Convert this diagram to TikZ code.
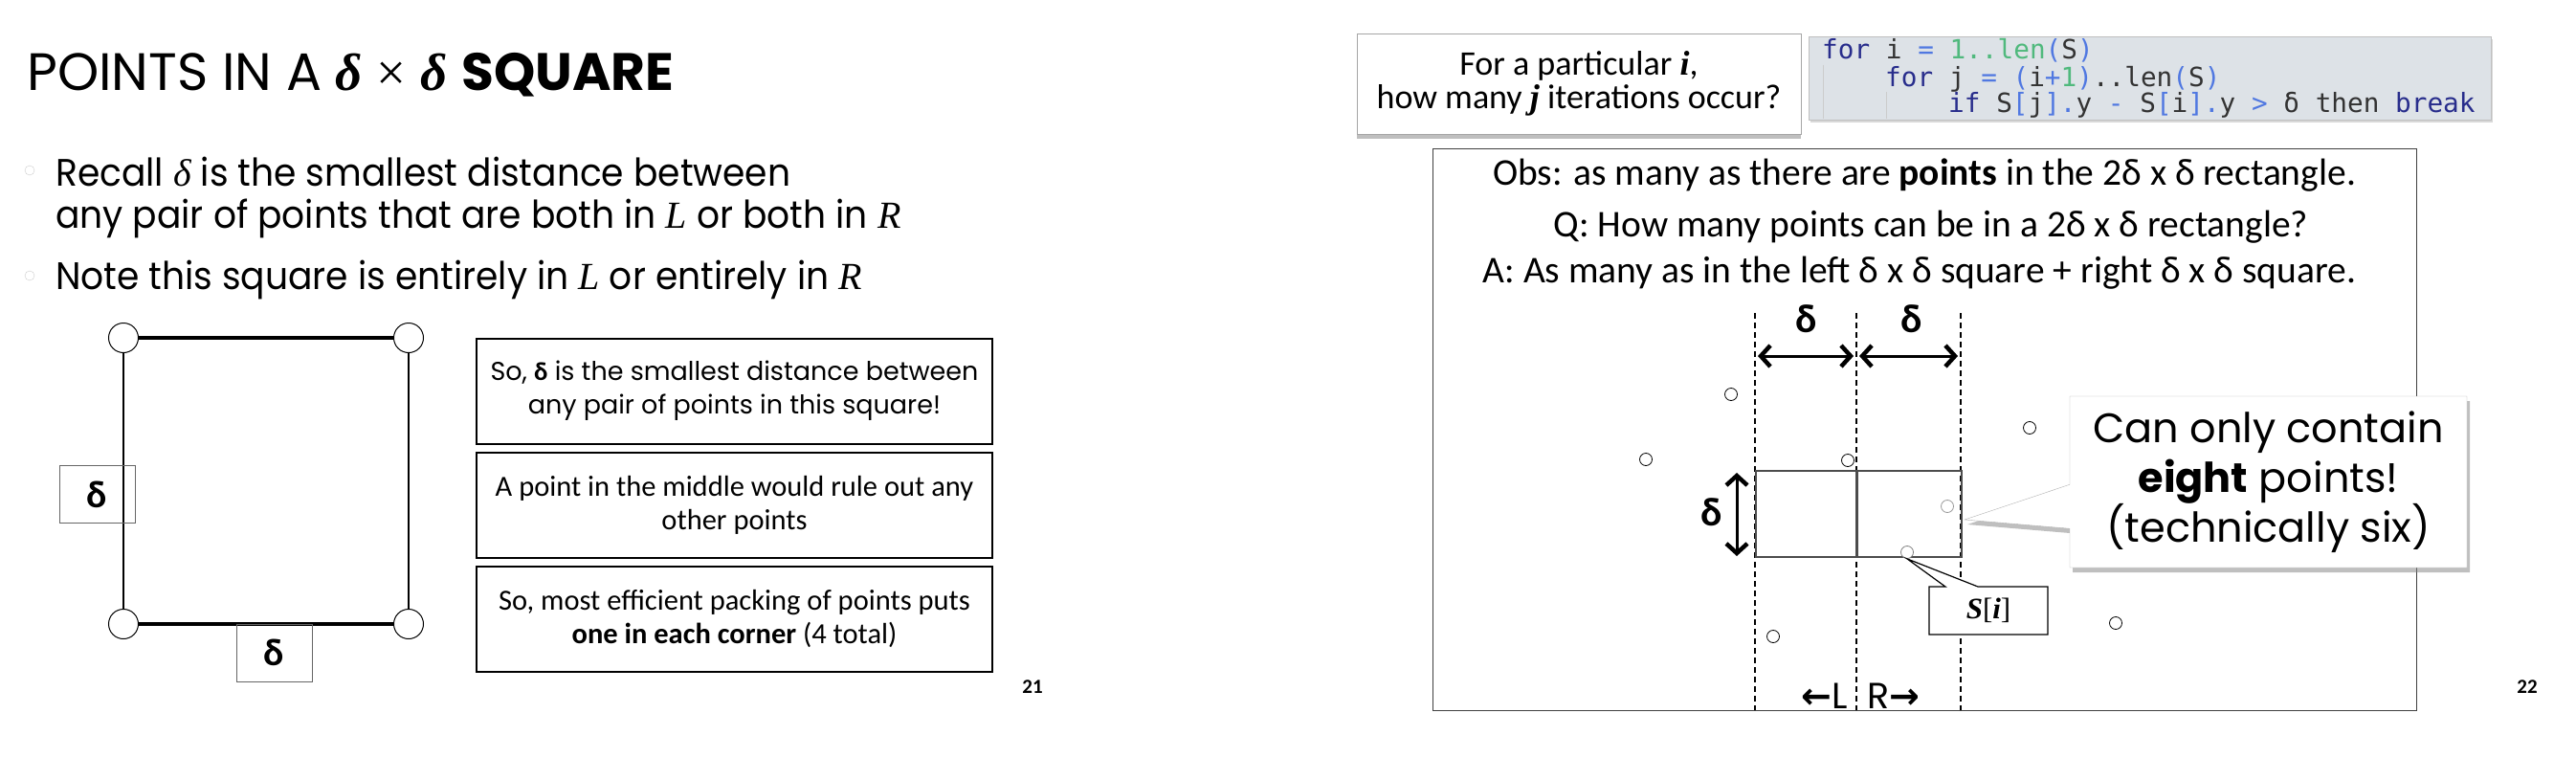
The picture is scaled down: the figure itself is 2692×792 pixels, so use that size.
\documentclass[tikz,border=0pt]{standalone}
\usepackage{fontspec}
\usepackage{tikz}
\usetikzlibrary{calc, positioning, shapes, shapes.callouts, arrows.meta, shadows}
\newfontfamily\gothic{Poppins}
\newfontfamily\gothicn[FakeStretch=0.94]{Poppins}
\newfontfamily\calib{Carlito}
\newfontfamily\codefont{DejaVu Sans Mono}
\newfontfamily\dvsans{DejaVu Sans}
\newfontfamily\serif{Liberation Serif}
\definecolor{codebg}{RGB}{221,226,231}
\definecolor{kwblue}{RGB}{40,45,140}
\definecolor{opblue}{RGB}{80,120,225}
\definecolor{numgreen}{RGB}{80,185,125}
\newcommand{\kw}[1]{\textcolor{kwblue}{#1}}
\newcommand{\opc}[1]{\textcolor{opblue}{#1}}
\newcommand{\numc}[1]{\textcolor{numgreen}{#1}}
\newcommand{\mv}[1]{{\serif\itshape #1}}
\newcommand{\mb}[1]{{\serif\bfseries\itshape #1}}

\begin{document}
\begin{tikzpicture}[x=1pt,y=-1pt,>={Straight Barb[length=10pt,width=22pt,line width=4.5pt]},
        every node/.style={inner sep=0pt},
        corner/.style={circle,draw=black,fill=white,line width=1pt,minimum size=31pt},
        bulletmark/.style={circle,draw=black!20,fill=white,minimum size=10pt},
        dbox/.style={draw=black!60,line width=1pt,minimum width=79pt,minimum height=60pt,font=\calib\bfseries\fontsize{40}{40}\selectfont},
        infobox/.style={draw=black,line width=2pt,fill=white,minimum width=539pt,minimum height=110pt,align=center},
        textline/.style={anchor=base west,font=\gothicn\fontsize{40}{44}\selectfont},
        codeline/.style={anchor=base west,font=\codefont\fontsize{27.7}{30}\selectfont,text=black!80},
        obsline/.style={anchor=base,font=\calib\fontsize{39.5}{39.5}\selectfont},
        dimfont/.style={font=\calib\bfseries\fontsize{42}{42}\selectfont},
        divider/.style={dashed,dash pattern=on 6pt off 4pt,line width=1.2pt},
        rectline/.style={draw=black!70,line width=1.5pt},
        pnt/.style={circle,line width=0.8pt,fill=white,minimum size=13pt},
        pagenum/.style={font=\calib\bfseries\fontsize{21}{21}\selectfont}]
        \fill[white] (0,0) rectangle (2692,792);
        \useasboundingbox (0,0) rectangle (2692,792);

        \node[anchor=base west,font=\gothic\fontsize{55}{55}\selectfont] (title) at (28,94) {POINTS IN A \mb{δ} {\serif ×} \mb{δ} \textbf{SQUARE}};
        \node[bulletmark] (b1) at (31,178) {};
        \node[bulletmark] (b2) at (31,288) {};
        \node[textline] (r1) at (58,194) {Recall \mv{δ} is the smallest distance between};
        \node[textline] (r2) at (58,238) {any pair of points that are both in \mv{L} or both in \mv{R}};
        \node[textline] (r3) at (58,302) {Note this square is entirely in \mv{L} or entirely in \mv{R}};

        \node[corner] (tl) at (129,353) {};
        \node[corner] (tr) at (427,353) {};
        \node[corner] (bl) at (129,652) {};
        \node[corner] (br) at (427,652) {};
        \draw[line width=3.5pt] (tl) -- (tr);
        \draw[line width=3.5pt] (bl) -- (br);
        \draw[line width=2pt] (tl) -- (bl);
        \draw[line width=2pt] (tr) -- (br);
        \node[dbox] (dside) at (101.5,516.5) {δ};
        \node[dbox] (dbot) at (286.5,682) {δ};

        \node[infobox,font=\gothic\fontsize{27}{35}\selectfont] (s1) at (767.5,408.5) {So, {\calib\bfseries δ} is the smallest distance between\\any pair of points in this square!};
        \node[infobox,font=\calib\fontsize{30.5}{35}\selectfont,below=7pt of s1] (s2) {A point in the middle would rule out any\\other points};
        \node[infobox,font=\calib\fontsize{30.5}{35}\selectfont,below=7pt of s2] (s3) {So, most efficient packing of points puts\\\textbf{one in each corner} (4 total)};
        \node[pagenum] (n21) at (1079,718) {21};

        \node[draw=black!35,fill=white,drop shadow={shadow xshift=0pt,shadow yshift=-5pt,opacity=0.5},minimum width=464pt,minimum height=105pt,align=center,font=\calib\fontsize{36}{35}\selectfont] (quest) at (1650,87.5) {For a particular \mb{i},\\how many \mb{j} iterations occur?};
        \node[draw=black!25,fill=codebg,drop shadow={shadow xshift=2pt,shadow yshift=-3pt,opacity=0.3},minimum width=713pt,minimum height=87pt] (code) at (2246.5,81.5) {};
        \draw[black!20] (1905,68) -- (1905,124);
        \draw[black!20] (1971,96) -- (1971,124);
        \node[codeline] (k1) at (1904,62) {\kw{for} i \opc{=} \numc{1..len}\opc{(}S\opc{)}};
        \node[codeline] (k2) at (1970,90) {\kw{for} j \opc{=} \opc{(}i\opc{+}\numc{1}\opc{)}..len\opc{(}S\opc{)}};
        \node[codeline] (k3) at (2036,117) {\kw{if} S\opc{[}j\opc{]}\opc{.}y \opc{-} S\opc{[}i\opc{]}\opc{.}y \opc{>} δ then \kw{break}};

        \node[draw=black!75,line width=1pt,minimum width=1028pt,minimum height=587pt] (frame) at (2011,448.5) {};
        \node[obsline] (obs) at (2011,193) {Obs: as many as there are \textbf{points} in the 2δ x δ rectangle.};
        \node[obsline] (qq) at (2018,247) {Q: How many points can be in a 2δ x δ rectangle?};
        \node[obsline] (aa) at (2006,295) {A: As many as in the left δ x δ square + right δ x δ square.};

        \foreach \x/\n in {1834/l,1940/m,2049/r}{
            \draw[divider] (\x,327) -- (\x,742);
            \coordinate (\n) at (\x,372);}
        \draw[<->,line width=3pt] ([xshift=3pt]l) -- ([xshift=-3pt]m);
        \draw[<->,line width=3pt] ([xshift=3pt]m) -- ([xshift=-3pt]r);
        \node[dimfont] (dl) at (1888,333) {δ};
        \node[dimfont] (dr) at (1998,333) {δ};
        \draw[rectline] (1835,492) rectangle (1940,582);
        \draw[rectline] (1941,492) rectangle (2050,582);
        \coordinate (vt) at (1815,494);
        \coordinate (vb) at (1815,581);
        \draw[<->,line width=3pt] (vt) -- (vb);
        \node[dimfont] (dv) at (1789,535) {δ};

        \foreach \px/\py/\c [count=\k] in {1809/412/black,2121/447/black,1720/480/black,1931/481/black,2035/529/black!40,1993/577/black!50,1853/665/black,2211/651/black}
            \node[pnt,draw=\c] (p\k) at (\px,\py) {};

        \node[rectangle callout,callout absolute pointer={(2053,543)},callout pointer width=46pt,draw=black!30,fill=white,drop shadow={shadow xshift=3pt,shadow yshift=-5pt,opacity=0.5},minimum width=415pt,minimum height=179pt,align=center,font=\gothic\fontsize{43}{52}\selectfont] (eight) at (2370.5,503.5) {Can only contain\\\textbf{eight} points!\\(technically six)};
        \node[rectangle callout,callout absolute pointer={(p6.south)},callout pointer width=34pt,draw=black,line width=1.2pt,fill=white,minimum width=124pt,minimum height=50pt,font=\fontsize{31}{31}\selectfont] (si) at (2078,638) {\mb{S}{\serif [}\mb{i}{\serif ]}};

        \node[anchor=base east,font=\gothic\fontsize{38}{38}\selectfont] (lside) at (1931,740) {{\dvsans\bfseries ←}L};
        \node[anchor=base west,font=\gothic\fontsize{38}{38}\selectfont] (rside) at (1951,740) {R{\dvsans\bfseries →}};
        \node[pagenum] (n22) at (2641,718) {22};
\end{tikzpicture}
\end{document}
